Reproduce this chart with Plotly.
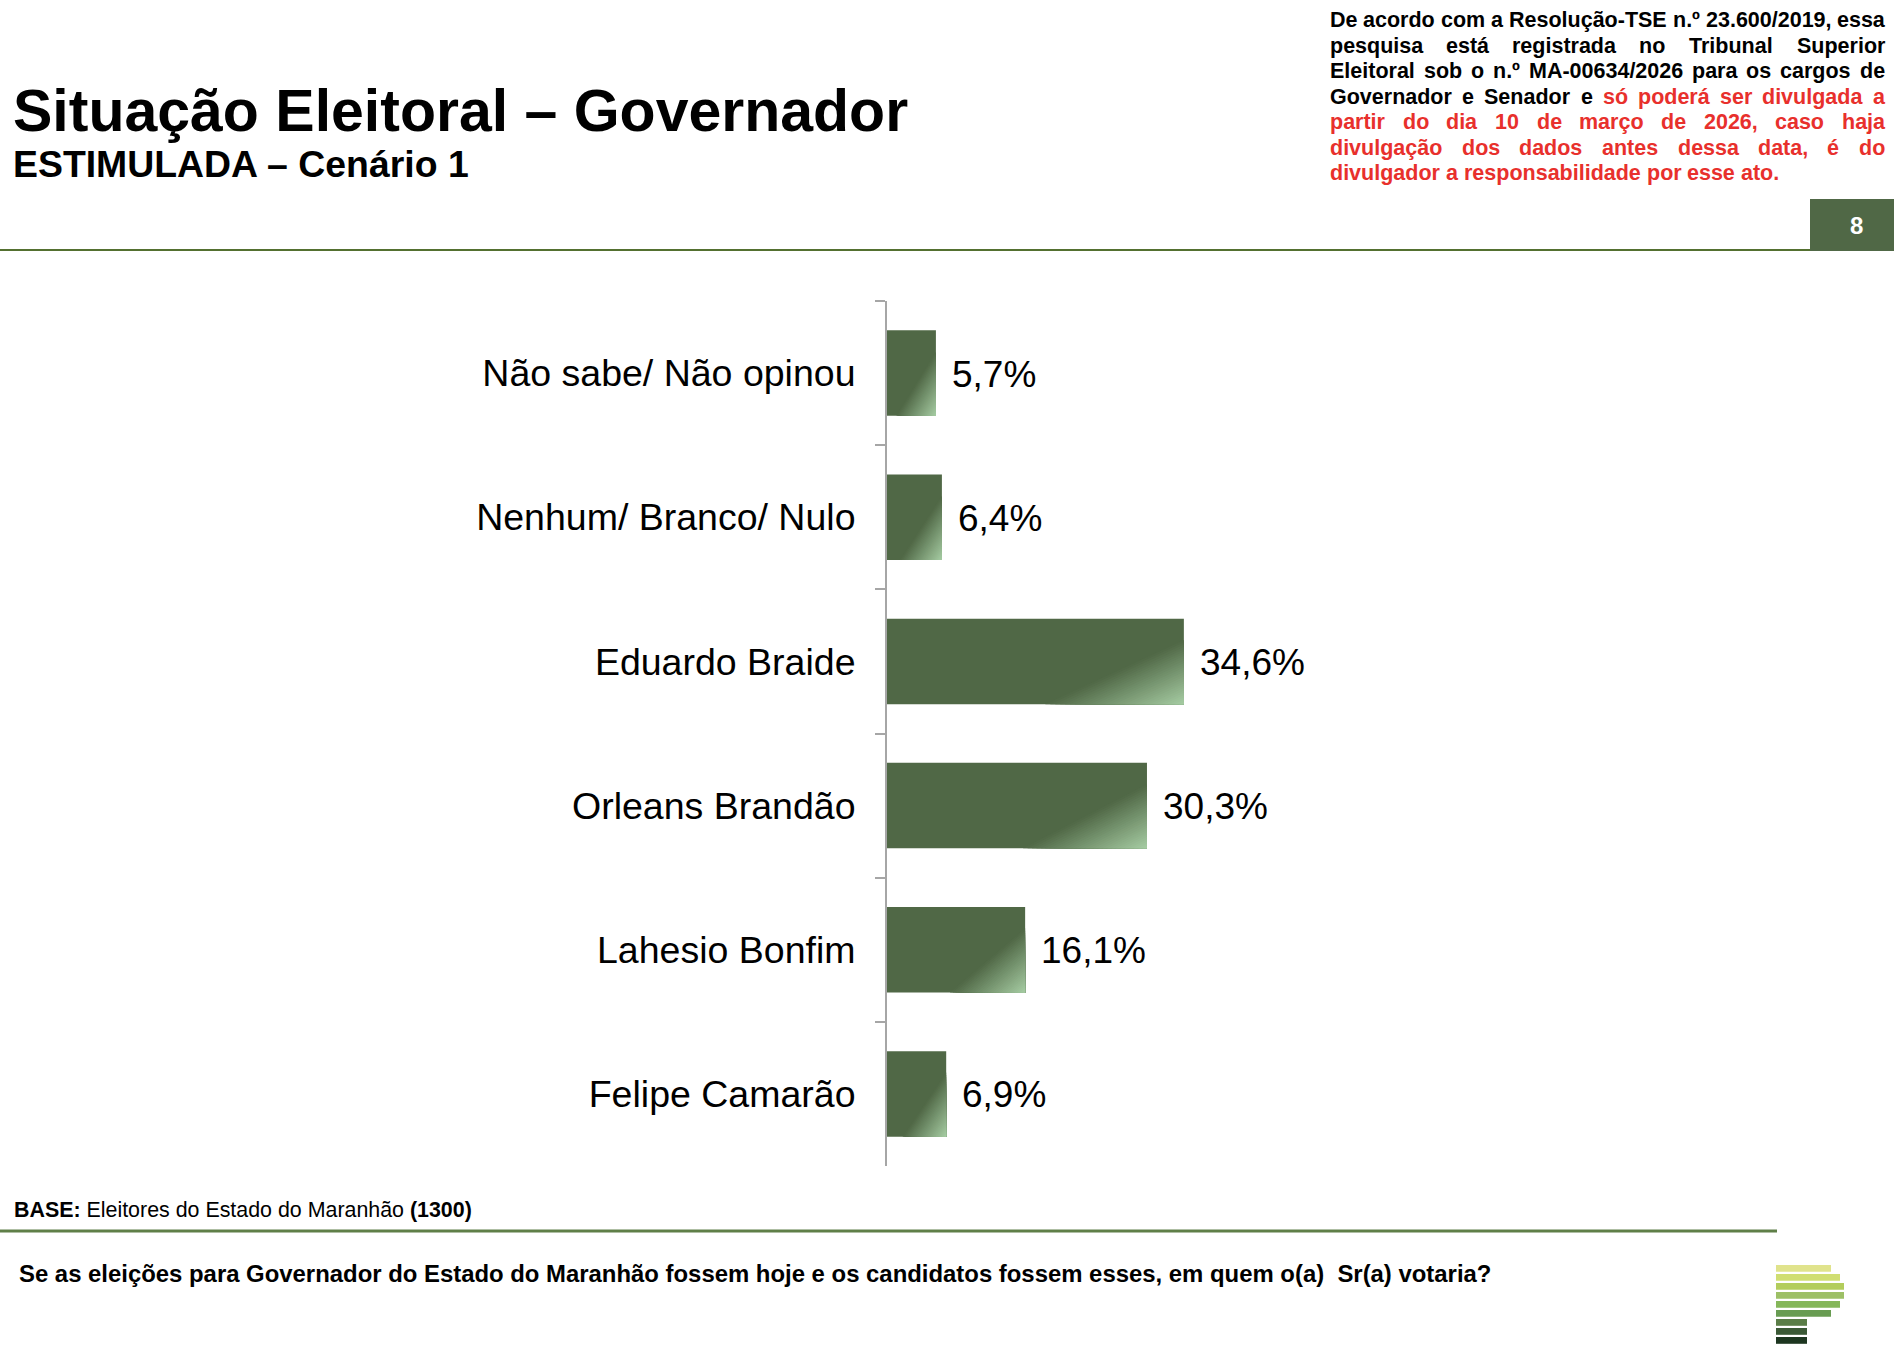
import unicodedata
import plotly.graph_objects as go

# ---------------- data ----------------
categories = ["Não sabe/ Não opinou", "Nenhum/ Branco/ Nulo", "Eduardo Braide",
              "Orleans Brandão", "Lahesio Bonfim", "Felipe Camarão"]
values = [5.7, 6.4, 34.6, 30.3, 16.1, 6.9]
value_labels = [f"{v:.1f}".replace(".", ",") + "%" for v in values]

title = "Situação Eleitoral – Governador"
subtitle = "ESTIMULADA – Cenário 1"
base_bold = "BASE:"
base_text = "Eleitores do Estado do Maranhão"
base_n = "(1300)"
question = "Se as eleições para Governador do Estado do Maranhão fossem hoje e os candidatos fossem esses, em quem o(a)\u00a0 Sr(a) votaria?"
page_number = "8"
notice_lines = [
    "De acordo com a Resolução-TSE n.º 23.600/2019, essa",
    "pesquisa está registrada no Tribunal Superior",
    "Eleitoral sob o n.º MA-00634/2026 para os cargos de",
    "Governador e Senador e só poderá ser divulgada a",
    "partir do dia 10 de março de 2026, caso haja",
    "divulgação dos dados antes dessa data, é do",
    "divulgador a responsabilidade por esse ato.",
]
red_start = (3, 4)  # (line, word) where red text begins

# ---------------- style ----------------
W, H = 1894, 1352
L, PW, T, PH = 887, 858, 301, 865
FONT = "Arial, Liberation Sans, Helvetica, sans-serif"
DARK = (80, 104, 70)
LIGHT = (166, 204, 163)
RED = "#e8302c"


def X(px):
    return (px - L) / PW


def Y(py):
    return 1 - (py - T) / PH


def rgb(c):
    return "rgb(%d,%d,%d)" % tuple(int(round(v)) for v in c)


def lerp(a, b, t):
    return tuple(a[i] + (b[i] - a[i]) * t for i in range(3))


# Arial/Helvetica bold advance widths (1/1000 em)
BW = {" ": 278, ".": 278, ",": 278, "/": 278, "-": 333, "º": 365, "(": 333, ")": 333,
      "?": 611, ":": 333}
for ch in "0123456789":
    BW[ch] = 556
BW.update(dict(zip("ABCDEFGHIJKLMNOPQRSTUVWXYZ",
                   [722, 722, 722, 722, 667, 611, 778, 722, 278, 556, 722, 611, 833, 722, 778,
                    667, 778, 722, 667, 611, 722, 667, 944, 667, 667, 611])))
BW.update(dict(zip("abcdefghijklmnopqrstuvwxyz",
                   [556, 611, 556, 611, 556, 333, 611, 611, 278, 278, 556, 278, 889, 611, 611,
                    611, 611, 389, 556, 333, 611, 556, 778, 556, 556, 500])))


def text_w(s, size):
    tot = 0
    for ch in s:
        if ch not in BW:
            ch = unicodedata.normalize("NFD", ch)[0]
        tot += BW.get(ch, 556)
    return tot * size / 1000.0


fig = go.Figure()

# bars
fig.add_trace(go.Bar(
    y=categories, x=values, orientation="h", width=0.593,
    marker=dict(color=rgb(DARK), line=dict(width=0)),
    hoverinfo="skip", showlegend=False,
))

# diagonal light corner (stepped gradient) computed from the data values
N = 28
half = 0.593 / 2
for k in range(N):
    s = 1 - k / N
    t = (k + 0.5) / N
    xs, ys = [], []
    for i, v in enumerate(values):
        lx = min(0.4 * v + 2.33, v) * s
        ly = 0.445 * s
        yb = i + half
        xs += [v - lx, v, v, v - lx, None]
        ys += [yb, yb, yb - ly, yb, None]
    fig.add_trace(go.Scatter(
        x=xs, y=ys, yaxis="y2", mode="lines", fill="toself",
        fillcolor=rgb(lerp(DARK, LIGHT, t)), line=dict(width=0),
        hoverinfo="skip", showlegend=False,
    ))

annotations = []
for c, v, lab in zip(categories, values, value_labels):
    annotations.append(dict(x=v, y=c, xref="x", yref="y", text=lab, showarrow=False,
                            xanchor="left", yanchor="middle", xshift=14, yshift=-1,
                            font=dict(family=FONT, size=37, color="black")))

# titles
annotations.append(dict(x=X(11), y=Y(111), xref="paper", yref="paper", text="<b>%s</b>" % title,
                        showarrow=False, xanchor="left", yanchor="middle",
                        font=dict(family=FONT, size=59, color="black")))
annotations.append(dict(x=X(11), y=Y(164), xref="paper", yref="paper", text="<b>%s</b>" % subtitle,
                        showarrow=False, xanchor="left", yanchor="middle",
                        font=dict(family=FONT, size=37.4, color="black")))

# notice block (justified)
NS = 21.5
left, right = 1330, 1885
for li, line in enumerate(notice_lines):
    words = line.split(" ")
    widths = [text_w(w, NS) for w in words]
    if li < len(notice_lines) - 1 and len(words) > 1:
        gap = (right - left - sum(widths)) / (len(words) - 1)
    else:
        gap = text_w(" ", NS)
    x = left
    for wi, (w, wd) in enumerate(zip(words, widths)):
        red = (li > red_start[0]) or (li == red_start[0] and wi >= red_start[1])
        annotations.append(dict(x=X(x - 1), y=Y(20.5 + 25.4 * li), xref="paper", yref="paper",
                                text="<b>%s</b>" % w, showarrow=False,
                                xanchor="left", yanchor="middle", borderpad=0,
                                font=dict(family=FONT, size=NS, color=RED if red else "black")))
        x += wd + gap

# page number
annotations.append(dict(x=X(1856), y=Y(225), xref="paper", yref="paper", text="<b>%s</b>" % page_number,
                        showarrow=False, xanchor="center", yanchor="middle",
                        font=dict(family=FONT, size=24, color="white")))

# base + question
annotations.append(dict(x=X(12), y=Y(1210), xref="paper", yref="paper",
                        text="<b>%s</b> %s <b>%s</b>" % (base_bold, base_text, base_n),
                        showarrow=False, xanchor="left", yanchor="middle",
                        font=dict(family=FONT, size=21.4, color="black")))
annotations.append(dict(x=X(17), y=Y(1273), xref="paper", yref="paper",
                        text="<b>%s</b>" % question,
                        showarrow=False, xanchor="left", yanchor="middle",
                        font=dict(family=FONT, size=23.9, color="black")))

shapes = [
    dict(type="line", xref="paper", yref="paper", x0=X(0), x1=X(1810), y0=Y(250), y1=Y(250),
         line=dict(color="#547030", width=2)),
    dict(type="rect", xref="paper", yref="paper", x0=X(1810), x1=X(1894), y0=Y(199), y1=Y(251),
         fillcolor=rgb(DARK), line=dict(width=0)),
    dict(type="line", xref="paper", yref="paper", x0=X(0), x1=X(1777), y0=Y(1231), y1=Y(1231),
         line=dict(color="#5f7f48", width=3)),
]
logo = [(1776, 1831, "#e0e38c"), (1776, 1840, "#d0de72"), (1776, 1844, "#b3cd5c"),
        (1776, 1844, "#9dc066"), (1776, 1840, "#85b75a"), (1776, 1831, "#689c52"),
        (1776, 1807, "#5a7d47"), (1776, 1807, "#3b5936"), (1776, 1807, "#1d3620")]
for j, (x0, x1, col) in enumerate(logo):
    y0 = 1265 + 9.0 * j
    shapes.append(dict(type="rect", xref="paper", yref="paper", x0=X(x0), x1=X(x1),
                       y0=Y(y0), y1=Y(y0 + 6.8), fillcolor=col, line=dict(width=0)))

fig.update_layout(
    width=W, height=H,
    margin=dict(l=L, r=W - L - PW, t=T, b=H - T - PH),
    paper_bgcolor="white", plot_bgcolor="white",
    bargap=0.407,
    xaxis=dict(range=[0, 100], visible=False, showgrid=False, zeroline=False, fixedrange=True),
    yaxis=dict(type="category", categoryorder="array", categoryarray=categories,
               range=[5.5, -0.5], tickson="boundaries", ticks="outside", ticklen=10,
               tickwidth=2, tickcolor="#a6a6a6", showline=True, linewidth=2, linecolor="#a6a6a6",
               showgrid=False, zeroline=False, ticklabelstandoff=22,
               tickfont=dict(family=FONT, size=37.5, color="black")),
    yaxis2=dict(overlaying="y", range=[5.5, -0.5], visible=False, showgrid=False, zeroline=False),
    annotations=annotations,
    shapes=shapes,
    showlegend=False,
)

fig.write_html("out.html")
